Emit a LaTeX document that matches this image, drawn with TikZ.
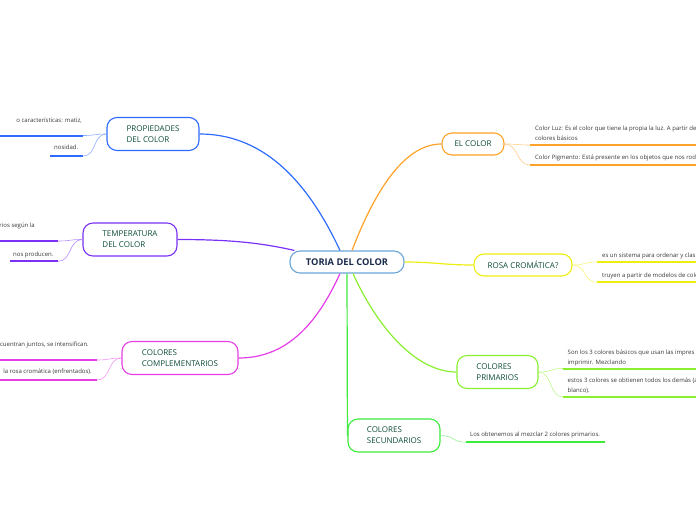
\documentclass[tikz,border=0pt]{standalone}
\usepackage{fontspec}
\setmainfont{Open Sans}

\definecolor{hubblue}{HTML}{6AA6DA}
\definecolor{hubtext}{HTML}{1A2B4C}
\definecolor{topictext}{HTML}{0F4D3C}
\definecolor{leaftext}{HTML}{383838}
\definecolor{propblue}{HTML}{2F6BFF}
\definecolor{temppurple}{HTML}{7A30F5}
\definecolor{compmagenta}{HTML}{E63EE6}
\definecolor{elorange}{HTML}{FFA229}
\definecolor{rosyellow}{HTML}{EEEE10}
\definecolor{primgreen}{HTML}{8AEF2E}
\definecolor{secgreen}{HTML}{3DEB3D}

\def \branchWidth {1.2pt}
\def \leafWidth {2pt}
\def \twigWidth {0.6pt}

\begin{document}
\begin{tikzpicture}[x=1pt,y=-1pt,
      hub/.style={draw=hubblue, line width=1.1pt, rounded corners=10pt, fill=white,
        minimum width=114pt, minimum height=22pt, text=hubtext,
        font=\bfseries\fontsize{9.3}{11}\selectfont},
      topic/.style={draw=#1, line width=1.1pt, rounded corners=10pt, fill=white,
        minimum height=33pt, text=topictext, align=left,
        font=\fontsize{8}{11}\selectfont},
      leaf/.style={inner sep=0pt, text=leaftext, align=left,
        font=\fontsize{6}{10}\selectfont},
      branch/.style={draw=#1, line width=\branchWidth},
      under/.style={draw=#1, line width=\leafWidth},
      twig/.style={draw=#1!55, line width=\twigWidth}]
   \useasboundingbox (0,0) rectangle (696,520);
   \clip (0,0) rectangle (696,520);

   \node[hub] (c) at (347,262) {TORIA DEL COLOR};
   \node[topic=propblue, minimum width=92pt] (prop) at (153,134) {PROPIEDADES\\DEL COLOR};
   \node[topic=temppurple, minimum width=94pt] (temp) at (130,239.5) {TEMPERATURA\\DEL COLOR};
   \node[topic=compmagenta, minimum width=116pt] (comp) at (180,358) {COLORES\\COMPLEMENTARIOS};
   \node[topic=elorange, minimum width=62pt, minimum height=22pt] (el) at (473,144) {EL COLOR};
   \node[topic=rosyellow, minimum width=98pt, minimum height=22pt] (ros) at (523,265) {ROSA CROMÁTICA?};
   \node[topic=primgreen, minimum width=81pt] (prim) at (497.5,372) {COLORES\\PRIMARIOS};
   \node[topic=secgreen, minimum width=92pt] (sec) at (394,435.5) {COLORES\\SECUNDARIOS};

   \draw[branch=propblue] ([xshift=-7pt]c.north) .. controls +(-35,-75) and +(60,0) .. (prop.east);
   \draw[branch=elorange] ([xshift=5pt]c.north) .. controls +(25,-65) and +(-35,0) .. (el.west);
   \draw[branch=temppurple] ([xshift=5pt]c.north west) .. controls +(-35,-8) and +(50,0) .. (temp.east);
   \draw[branch=rosyellow] (c.east) .. controls +(30,0) and +(-30,0) .. (ros.west);
   \draw[branch=compmagenta] ([xshift=-7pt]c.south) .. controls +(-25,55) and +(45,0) .. (comp.east);
   \draw[branch=primgreen] ([xshift=6pt]c.south) .. controls +(25,55) and +(-40,0) .. (prim.west);
   \draw[branch=secgreen] (c.south) -- (sec.west);

   \coordinate (p1a) at (83,135.5); \coordinate (p1b) at (-5,135.5);
   \coordinate (p2a) at (83,156); \coordinate (p2b) at (50,156);
   \node[leaf, anchor=base east] (p1) at (82,122) {o características: matiz,};
   \node[leaf, anchor=base west] (p2) at (54,149.5) {nosidad.};
   \draw[under=propblue] (p1a) -- (p1b);
   \draw[under=propblue] (p2a) -- (p2b);
   \draw[twig=propblue] (prop.west) .. controls +(-14,0) and +(14,0) .. (p1a);
   \draw[twig=propblue] (prop.west) .. controls +(-14,0) and +(14,0) .. (p2a);

   \coordinate (t1a) at (58,241); \coordinate (t1b) at (-5,241);
   \coordinate (t2a) at (58,261.3); \coordinate (t2b) at (10,261.3);
   \node[leaf, anchor=base east] (t1) at (35,227) {rios según la};
   \node[leaf, anchor=base west] (t2) at (13,256) {nos producen.};
   \draw[under=temppurple] (t1a) -- (t1b);
   \draw[under=temppurple] (t2a) -- (t2b);
   \draw[twig=temppurple] (temp.west) .. controls +(-14,0) and +(14,0) .. (t1a);
   \draw[twig=temppurple] (temp.west) .. controls +(-14,0) and +(14,0) .. (t2a);

   \coordinate (c1a) at (97,360); \coordinate (c1b) at (-5,360);
   \coordinate (c2a) at (97,380); \coordinate (c2b) at (-5,380);
   \node[leaf, anchor=base east] (c1) at (89,346) {cuentran juntos, se intensifican.};
   \node[leaf, anchor=base east] (c2) at (92,373.5) {la rosa cromática (enfrentados).};
   \draw[under=compmagenta] (c1a) -- (c1b);
   \draw[under=compmagenta] (c2a) -- (c2b);
   \draw[twig=compmagenta] (comp.west) .. controls +(-14,0) and +(14,0) .. (c1a);
   \draw[twig=compmagenta] (comp.west) .. controls +(-14,0) and +(14,0) .. (c2a);

   \coordinate (e1a) at (530,145); \coordinate (e1b) at (700,145);
   \coordinate (e2a) at (530,165); \coordinate (e2b) at (700,165);
   \node[leaf, anchor=base west] (e1) at (535,140.5) {Color Luz: Es el color que tiene la propia la luz. A partir de\\colores básicos};
   \node[leaf, anchor=base west] (e2) at (535,159.5) {Color Pigmento: Está presente en los objetos que nos rod};
   \draw[under=elorange] (e1a) -- (e1b);
   \draw[under=elorange] (e2a) -- (e2b);
   \draw[twig=elorange] (el.east) .. controls +(14,0) and +(-14,0) .. (e1a);
   \draw[twig=elorange] (el.east) .. controls +(14,0) and +(-14,0) .. (e2a);

   \coordinate (r1a) at (597,262); \coordinate (r1b) at (700,262);
   \coordinate (r2a) at (597,282.3); \coordinate (r2b) at (700,282.3);
   \node[leaf, anchor=base west] (r1) at (602,257) {es un sistema para ordenar y clas};
   \node[leaf, anchor=base west] (r2) at (602,277.5) {truyen a partir de modelos de colo};
   \draw[under=rosyellow] (r1a) -- (r1b);
   \draw[under=rosyellow] (r2a) -- (r2b);
   \draw[twig=rosyellow] (ros.east) .. controls +(14,0) and +(-14,0) .. (r1a);
   \draw[twig=rosyellow] (ros.east) .. controls +(14,0) and +(-14,0) .. (r2a);

   \coordinate (m1a) at (563,368.5); \coordinate (m1b) at (700,368.5);
   \coordinate (m2a) at (563,397); \coordinate (m2b) at (700,397);
   \node[leaf, anchor=base west] (m1) at (567.5,364.5) {Son los 3 colores básicos que usan las impres\\imprimir. Mezclando};
   \node[leaf, anchor=base west] (m2) at (567.5,392.5) {estos 3 colores se obtienen todos los demás (a\\blanco).};
   \draw[under=primgreen] (m1a) -- (m1b);
   \draw[under=primgreen] (m2a) -- (m2b);
   \draw[twig=primgreen] (prim.east) .. controls +(14,0) and +(-14,0) .. (m1a);
   \draw[twig=primgreen] (prim.east) .. controls +(14,0) and +(-14,0) .. (m2a);

   \coordinate (s1a) at (466,442.3); \coordinate (s1b) at (605,442.3);
   \node[leaf, anchor=base west] (s1) at (470,436.5) {Los obtenemos al mezclar 2 colores primarios.};
   \draw[under=secgreen] (s1a) -- (s1b);
   \draw[twig=secgreen] (sec.east) .. controls +(14,0) and +(-14,0) .. (s1a);
\end{tikzpicture}
\end{document}
